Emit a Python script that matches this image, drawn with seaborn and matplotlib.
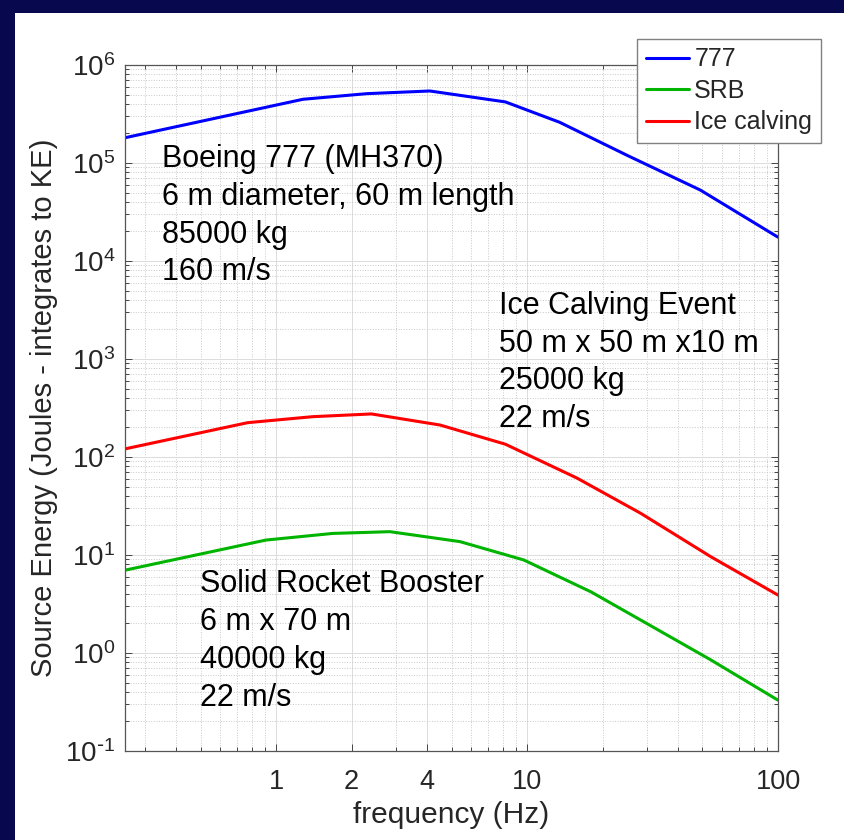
import numpy as np
import pandas as pd
import matplotlib
matplotlib.use('Agg')
import matplotlib.pyplot as plt
from matplotlib.patches import Rectangle
from matplotlib.ticker import LogLocator, NullFormatter, FuncFormatter
import seaborn as sns

# values
f_777 = [0.25, 1.28, 2.3, 4.1, 8.2, 13.5, 25, 49, 100]
e_777 = [1.81e5, 4.47e5, 5.1e5, 5.43e5, 4.2e5, 2.6e5, 1.2e5, 5.3e4, 1.75e4]

f_srb = [0.25, 0.91, 1.68, 2.84, 5.4, 9.7, 18, 30, 54, 100]
e_srb = [7.0, 14.2, 16.6, 17.3, 13.7, 8.9, 4.2, 2.0, 0.85, 0.33]

f_ice = [0.25, 0.77, 1.4, 2.4, 4.5, 8.2, 15.8, 28.4, 54, 100]
e_ice = [121, 224, 258, 275, 212, 135, 61, 26.6, 9.6, 3.9]

series = ['777', 'SRB', 'Ice calving']
colors = ['#0000ff', '#00b400', '#ff0000']

xticks = [1, 2, 4, 10, 100]
xticklabels = ['1', '2', '4', '10', '100']

notes = [
    (0.057, 0.885, 'Boeing 777 (MH370)\n6 m diameter, 60 m length\n85000 kg\n160 m/s'),
    (0.573, 0.671, 'Ice Calving Event\n50 m x 50 m x10 m\n25000 kg\n22 m/s'),
    (0.115, 0.265, 'Solid Rocket Booster\n6 m x 70 m\n40000 kg\n22 m/s'),
]

df = pd.concat([
    pd.DataFrame({'freq': f_777, 'energy': e_777, 'source': '777'}),
    pd.DataFrame({'freq': f_srb, 'energy': e_srb, 'source': 'SRB'}),
    pd.DataFrame({'freq': f_ice, 'energy': e_ice, 'source': 'Ice calving'}),
])

sns.set_style('ticks')
plt.rcParams['font.family'] = ['Liberation Sans', 'DejaVu Sans']
plt.rcParams['mathtext.default'] = 'regular'
plt.rcParams['axes.unicode_minus'] = False


def pow10(v, pos):
    e = int(round(np.log10(v)))
    s = str(e) if e >= 0 else r'\text{-}' + str(-e)
    return r'$10^{%s}$' % s


fig = plt.figure(figsize=(8.44, 8.40), dpi=100, facecolor='#08084f')
fig.add_artist(Rectangle((15 / 844, 0), 1 - 15 / 844, 827 / 840,
                         transform=fig.transFigure, facecolor='white',
                         edgecolor='none', zorder=-5))
ax = fig.add_axes([125 / 844, 89 / 840, 653 / 844, 686 / 840])

sns.lineplot(data=df, x='freq', y='energy', hue='source', hue_order=series,
             palette=colors, linewidth=2.2, ax=ax, legend=True)

ax.set_xscale('log')
ax.set_yscale('log')
ax.set_xlim(0.25, 100)
ax.set_ylim(0.1, 1e6)

ax.set_xticks(xticks)
ax.set_xticklabels(xticklabels)
ax.xaxis.set_minor_locator(LogLocator(base=10, subs=np.arange(2, 10), numticks=20))
ax.xaxis.set_minor_formatter(NullFormatter())
ax.yaxis.set_major_locator(LogLocator(base=10, numticks=20))
ax.yaxis.set_major_formatter(FuncFormatter(pow10))
ax.yaxis.set_minor_locator(LogLocator(base=10, subs=np.arange(2, 10), numticks=20))
ax.yaxis.set_minor_formatter(NullFormatter())

ax.grid(which='major', color='#dcdcdc', linewidth=0.7, linestyle='-')
ax.grid(which='minor', color='#c8c8c8', linewidth=0.7, linestyle=':')
ax.set_axisbelow(True)

for sp in ax.spines.values():
    sp.set_visible(True)
    sp.set_color('#555555')
    sp.set_linewidth(0.9)

ax.tick_params(which='both', direction='in', top=True, right=True,
               color='#444444', width=0.7)
ax.tick_params(which='major', length=5)
ax.tick_params(which='minor', length=3)
ax.tick_params(axis='x', which='major', labelsize=19.5, pad=13, labelcolor='#262626')
ax.tick_params(axis='y', which='major', labelsize=20, pad=7, labelcolor='#262626')

ax.set_xlabel('frequency (Hz)', fontsize=21.5, color='#262626', labelpad=4)
ax.set_ylabel('Source Energy (Joules - integrates to KE)', fontsize=21,
              color='#262626')
ax.yaxis.set_label_coords(-0.103, 0.5)

for x, y, s in notes:
    ax.text(x, y, s, transform=ax.transAxes, fontsize=22, va='top', ha='left',
            linespacing=1.34, color='black')

handles, labels = ax.get_legend_handles_labels()
leg = ax.legend(handles, labels, loc='upper left',
                bbox_to_anchor=(637 / 844, 1 - 39 / 840),
                bbox_transform=fig.transFigure, borderaxespad=0,
                fontsize=18, frameon=True, fancybox=False, framealpha=1,
                edgecolor='#808080', borderpad=0.34, labelspacing=0.3,
                handlelength=1.75, handletextpad=0.2, title=None)
leg.get_frame().set_linewidth(1.0)
for line in leg.get_lines():
    line.set_linewidth(2.2)

fig.savefig('out.png', dpi=100, facecolor=fig.get_facecolor())
